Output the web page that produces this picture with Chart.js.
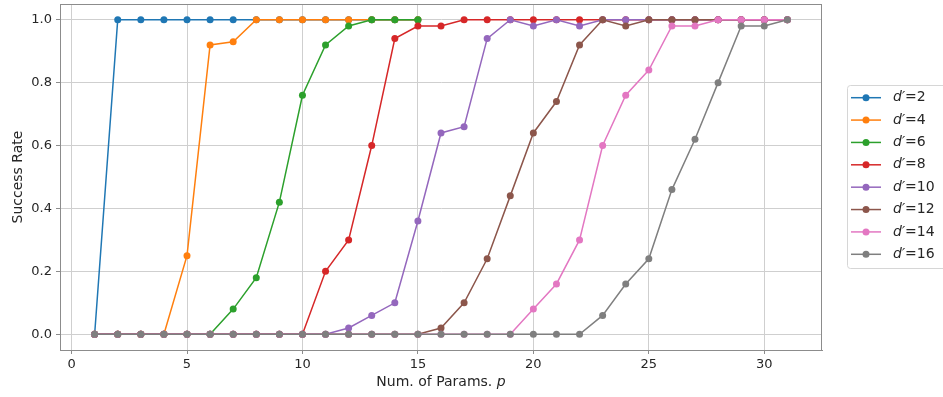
<!DOCTYPE html>
<html>
<head>
<meta charset="utf-8">
<script src="https://cdn.jsdelivr.net/npm/chart.js@4.4.1/dist/chart.umd.min.js"></script>
<style>
  html, body { margin: 0; padding: 0; background: #fff; }
  #wrap { width: 943px; height: 397px; position: relative; }
</style>
</head>
<body>
<div id="wrap"><canvas id="successChart" width="943" height="397"></canvas></div>
<script>
// number of params p
var paramsShort = [1, 2, 3, 4, 5, 6, 7, 8, 9, 10, 11, 12, 13, 14, 15];
var paramsLong = [1, 2, 3, 4, 5, 6, 7, 8, 9, 10, 11, 12, 13, 14, 15, 16,
                  17, 18, 19, 20, 21, 22, 23, 24, 25, 26, 27, 28, 29, 30, 31];

var dLabels = ['2', '4', '6', '8', '10', '12', '14', '16'];
var colors = ['#1f77b4', '#ff7f0e', '#2ca02c', '#d62728', '#9467bd', '#8c564b', '#e377c2', '#7f7f7f'];

var rateD2 = [0, 1, 1, 1, 1, 1, 1, 1, 1, 1, 1, 1, 1, 1, 1];
var rateD4 = [0, 0, 0, 0, 0.25, 0.92, 0.93, 1, 1, 1, 1, 1, 1, 1, 1];
var rateD6 = [0, 0, 0, 0, 0, 0, 0.08, 0.18, 0.42, 0.76, 0.92, 0.98, 1, 1, 1];
var rateD8 = [0, 0, 0, 0, 0, 0, 0, 0, 0, 0, 0.20, 0.30, 0.60, 0.94, 0.98, 0.98,
              1, 1, 1, 1, 1, 1, 1, 1, 1, 1, 1, 1, 1, 1, 1];
var rateD10 = [0, 0, 0, 0, 0, 0, 0, 0, 0, 0, 0, 0.02, 0.06, 0.10, 0.36, 0.64,
               0.66, 0.94, 1, 0.98, 1, 0.98, 1, 1, 1, 1, 1, 1, 1, 1, 1];
var rateD12 = [0, 0, 0, 0, 0, 0, 0, 0, 0, 0, 0, 0, 0, 0, 0, 0.02,
               0.10, 0.24, 0.44, 0.64, 0.74, 0.92, 1, 0.98, 1, 1, 1, 1, 1, 1, 1];
var rateD14 = [0, 0, 0, 0, 0, 0, 0, 0, 0, 0, 0, 0, 0, 0, 0, 0,
               0, 0, 0, 0.08, 0.16, 0.30, 0.60, 0.76, 0.84, 0.98, 0.98, 1, 1, 1, 1];
var rateD16 = [0, 0, 0, 0, 0, 0, 0, 0, 0, 0, 0, 0, 0, 0, 0, 0,
               0, 0, 0, 0, 0, 0, 0.06, 0.16, 0.24, 0.46, 0.62, 0.80, 0.98, 0.98, 1];

var xTicks = [0, 5, 10, 15, 20, 25, 30];
var yTicks = [0, 0.2, 0.4, 0.6, 0.8, 1.0];

var allRates = [rateD2, rateD4, rateD6, rateD8, rateD10, rateD12, rateD14, rateD16];

function toPoints(rates) {
    var xs = rates.length === paramsShort.length ? paramsShort : paramsLong;
    return rates.map(function (v, i) { return { x: xs[i], y: v }; });
}

var datasets = allRates.map(function (rates, i) {
    return {
        label: "d′=" + dLabels[i],
        data: toPoints(rates),
        borderColor: colors[i],
        backgroundColor: colors[i],
        pointBackgroundColor: colors[i],
        pointBorderWidth: 0,
        pointRadius: 3.5,
        borderWidth: 1.5,
        tension: 0,
        order: allRates.length - i
    };
});

var FONT = "'DejaVu Sans', sans-serif";
var TEXT = '#262626';
var SPINE = '#8c8c8c';

// frame, x title with italic p, and a matplotlib-like legend
var extras = {
    id: 'extras',
    afterDraw: function (chart) {
        var ctx = chart.ctx;
        var a = chart.chartArea;
        ctx.save();
        ctx.strokeStyle = SPINE;
        ctx.lineWidth = 1;
        ctx.strokeRect(Math.round(a.left) + 0.5, Math.round(a.top) + 0.5,
                       Math.round(a.right - a.left) - 1, Math.round(a.bottom - a.top));

        // x title
        ctx.fillStyle = TEXT;
        ctx.textBaseline = 'middle';
        ctx.font = '14px ' + FONT;
        var t1 = 'Num. of Params. ';
        var w1 = ctx.measureText(t1).width;
        ctx.font = 'italic 14px ' + FONT;
        var w2 = ctx.measureText('p').width;
        var cx = (a.left + a.right) / 2;
        var sx = cx - (w1 + w2) / 2;
        ctx.font = '14px ' + FONT;
        ctx.textAlign = 'left';
        ctx.fillText(t1, sx, 382);
        ctx.font = 'italic 14px ' + FONT;
        ctx.fillText('p', sx + w1, 382);

        // legend
        var bx = 847, by = 85, bw = 100, bh = 183;
        ctx.fillStyle = 'rgba(255,255,255,0.8)';
        ctx.strokeStyle = '#d6d6d6';
        ctx.beginPath();
        ctx.roundRect(bx + 0.5, by + 0.5, bw, bh, 3);
        ctx.fill();
        ctx.stroke();
        for (var i = 0; i < dLabels.length; i++) {
            var y = 97.7 + i * 22.37;
            ctx.strokeStyle = colors[i];
            ctx.lineWidth = 1.5;
            ctx.beginPath();
            ctx.moveTo(851, y);
            ctx.lineTo(881, y);
            ctx.stroke();
            ctx.fillStyle = colors[i];
            ctx.beginPath();
            ctx.arc(866, y, 3.5, 0, Math.PI * 2);
            ctx.fill();
            ctx.fillStyle = TEXT;
            ctx.font = 'italic 14px ' + FONT;
            ctx.fillText('d′', 893, y);
            var wd = ctx.measureText('d′').width;
            ctx.font = '14px ' + FONT;
            ctx.fillText('=' + dLabels[i], 893 + wd, y);
        }
        ctx.restore();
    }
};

var ctx = document.getElementById('successChart').getContext('2d');
var chart = new Chart(ctx, {
    type: 'line',
    data: { datasets: datasets },
    plugins: [extras],
    options: {
        responsive: false,
        animation: false,
        devicePixelRatio: 1,
        layout: { padding: { left: 10, right: 121, top: 3, bottom: 0 } },
        plugins: {
            legend: { display: false },
            tooltip: { enabled: false }
        },
        scales: {
            x: {
                type: 'linear',
                min: -0.5,
                max: 32.5,
                afterFit: function (s) { s.height = 47; s.paddingLeft = 0; s.paddingRight = 0; },
                afterBuildTicks: function (s) {
                    s.ticks = xTicks.map(function (v) { return { value: v }; });
                },
                ticks: {
                    color: TEXT,
                    font: { family: FONT, size: 13 },
                    padding: 3,
                    maxRotation: 0,
                    callback: function (v) { return String(v); }
                },
                grid: { color: '#cfcfcf', lineWidth: 1, tickLength: 4, tickColor: SPINE },
                border: { display: true, color: SPINE }
            },
            y: {
                min: -0.05,
                max: 1.05,
                afterFit: function (s) { s.width = 50; s.paddingTop = 0; s.paddingBottom = 0; },
                afterBuildTicks: function (s) {
                    s.ticks = yTicks.map(function (v) { return { value: v }; });
                },
                ticks: {
                    color: TEXT,
                    font: { family: FONT, size: 13 },
                    padding: 4,
                    callback: function (v) { return v.toFixed(1); }
                },
                title: {
                    display: true,
                    text: 'Success Rate',
                    color: TEXT,
                    font: { family: FONT, size: 14 },
                    padding: { top: 0, bottom: 2 }
                },
                grid: { color: '#cfcfcf', lineWidth: 1, tickLength: 4, tickColor: SPINE },
                border: { display: true, color: SPINE }
            }
        }
    }
});
</script>
</body>
</html>
